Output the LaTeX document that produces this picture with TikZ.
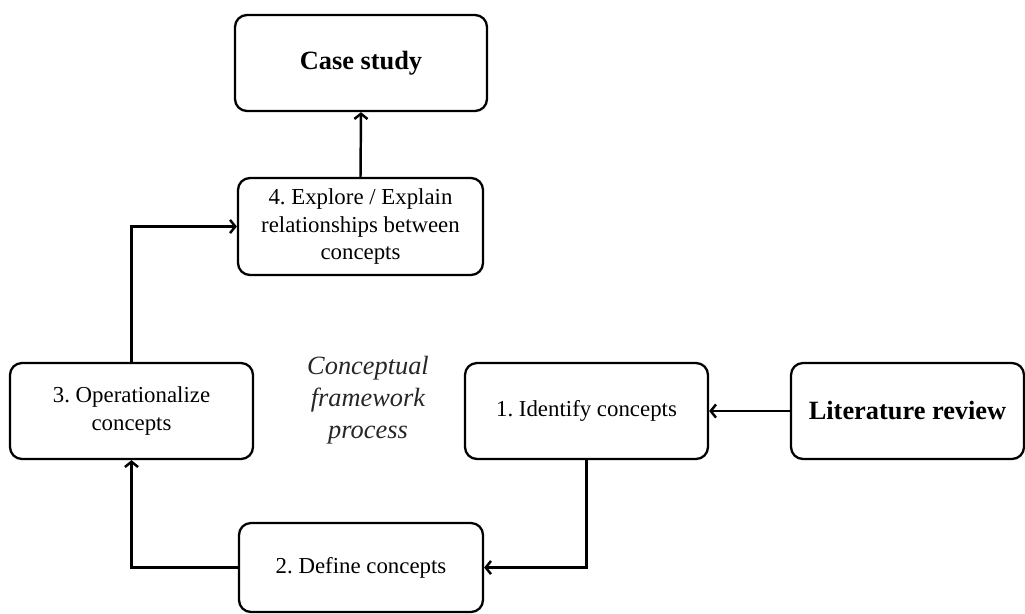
\documentclass[tikz,border=0pt]{standalone}
\usepackage{fontspec}
\setmainfont{Liberation Serif}
\usetikzlibrary{arrows.meta}
\frenchspacing
\begin{document}
\begin{tikzpicture}[
    box/.style={draw, line width=1.3pt, rounded corners=0.24cm, align=center,
        minimum width=4.86cm, minimum height=1.92cm, inner sep=2pt,
        font=\fontsize{13}{15.4}\selectfont},
    bigbox/.style={box, font=\fontsize{15}{18}\selectfont\bfseries},
    link/.style={-{Straight Barb[length=3pt,width=7.5pt]}, line width=1.4pt}
]
        \useasboundingbox (0, 0) rectangle (20.5, -12.26);

        \node[bigbox, minimum width=5.04cm] (case) at (7.22, -1.26) {Case study};
        \node[box, minimum width=4.9cm, minimum height=1.94cm] (explore) at (7.21, -4.53)
            {4. Explore / Explain\\relationships between\\concepts};
        \node[box] (oper) at (2.63, -8.22) {3. Operationalize\\concepts};
        \node[box] (identify) at (11.73, -8.22) {1. Identify concepts};
        \node[bigbox, minimum width=4.66cm] (lit) at (18.15, -8.22) {Literature review};
        \node[box, minimum width=4.88cm, minimum height=1.78cm] (define) at (7.22, -11.35)
            {2. Define concepts};

        \node[align=center, text=black!85, font=\fontsize{15}{18.2}\selectfont\itshape]
            (process) at (7.36, -8.0) {Conceptual\\framework\\process};

        \draw[link] (lit.west) -- (identify.east);
        \draw[link] (identify.south) |- (define.east);
        \draw[link] (define.west) -| (oper.south);
        \draw[link] (oper.north) |- (explore.west);
        \draw[link] (explore.north) -- (case.south);
\end{tikzpicture}
\end{document}
